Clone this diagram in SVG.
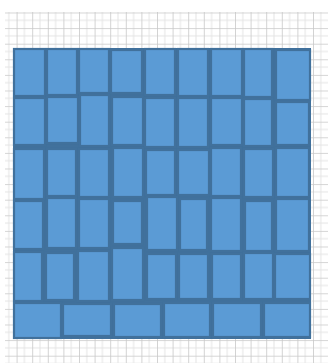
<svg xmlns="http://www.w3.org/2000/svg" width="328" height="363" viewBox="0 0 328 363">
  <defs>
    <pattern id="grid" x="1" y="12.5" width="15.6" height="15.6" patternUnits="userSpaceOnUse">
      <path d="M7.8 0V15.6M0 7.8H15.6" stroke="#e4e4e4" stroke-width="1" fill="none"/>
      <path d="M0 0V15.6M0 0H15.6" stroke="#c8c8c8" stroke-width="1.6" fill="none"/>
    </pattern>
    <style>
      .b { fill: #5b9bd5; stroke: #41719c; stroke-width: 2.2; }
    </style>
  </defs>
  <rect width="328" height="363" fill="#ffffff"/>
  <rect x="5" y="12" width="323" height="351" fill="url(#grid)"/>
  <rect x="13" y="48" width="298" height="291" fill="#41719c"/>
  <g id="row1">
    <rect id="r1c1" class="b" x="14" y="49" width="31" height="47"/>
    <rect id="r1c2" class="b" x="47" y="49" width="30" height="46"/>
    <rect id="r1c3" class="b" x="79" y="49" width="30" height="44"/>
    <rect id="r1c4" class="b" x="111" y="50" width="31" height="43"/>
    <rect id="r1c5" class="b" x="145" y="49" width="30" height="46"/>
    <rect id="r1c6" class="b" x="178" y="49" width="30" height="47"/>
    <rect id="r1c7" class="b" x="211" y="49" width="31" height="47"/>
    <rect id="r1c8" class="b" x="244" y="49" width="28" height="48"/>
    <rect id="r1c9" class="b" x="276" y="50" width="34" height="50"/>
  </g>
  <g id="row2">
    <rect id="r2c1" class="b" x="14" y="98" width="31" height="47"/>
    <rect id="r2c2" class="b" x="47" y="97" width="31" height="46"/>
    <rect id="r2c3" class="b" x="80" y="95" width="29" height="51"/>
    <rect id="r2c4" class="b" x="112" y="97" width="31" height="48"/>
    <rect id="r2c5" class="b" x="145" y="98" width="30" height="49"/>
    <rect id="r2c6" class="b" x="178" y="98" width="30" height="49"/>
    <rect id="r2c7" class="b" x="211" y="98" width="31" height="47"/>
    <rect id="r2c8" class="b" x="244" y="99" width="28" height="47"/>
    <rect id="r2c9" class="b" x="276" y="102" width="33" height="43"/>
  </g>
  <g id="row3">
    <rect id="r3c1" class="b" x="14" y="149" width="30" height="50"/>
    <rect id="r3c2" class="b" x="47" y="149" width="29" height="47"/>
    <rect id="r3c3" class="b" x="79" y="149" width="30" height="48"/>
    <rect id="r3c4" class="b" x="113" y="148" width="30" height="49"/>
    <rect id="r3c5" class="b" x="146" y="150" width="29" height="45"/>
    <rect id="r3c6" class="b" x="178" y="150" width="31" height="45"/>
    <rect id="r3c7" class="b" x="211" y="148" width="30" height="48"/>
    <rect id="r3c8" class="b" x="244" y="149" width="29" height="48"/>
    <rect id="r3c9" class="b" x="276" y="148" width="33" height="49"/>
  </g>
  <g id="row4">
    <rect id="r4c1" class="b" x="14" y="201" width="29" height="48"/>
    <rect id="r4c2" class="b" x="47" y="198" width="29" height="50"/>
    <rect id="r4c3" class="b" x="79" y="199" width="30" height="49"/>
    <rect id="r4c4" class="b" x="113" y="201" width="29" height="43"/>
    <rect id="r4c5" class="b" x="147" y="197" width="30" height="53"/>
    <rect id="r4c6" class="b" x="180" y="199" width="27" height="51"/>
    <rect id="r4c7" class="b" x="211" y="198" width="30" height="53"/>
    <rect id="r4c8" class="b" x="245" y="201" width="27" height="50"/>
    <rect id="r4c9" class="b" x="276" y="199" width="33" height="52"/>
  </g>
  <g id="row5">
    <rect id="r5c1" class="b" x="14" y="252" width="28" height="49"/>
    <rect id="r5c2" class="b" x="46" y="253" width="28" height="47"/>
    <rect id="r5c3" class="b" x="78" y="251" width="31" height="50"/>
    <rect id="r5c4" class="b" x="112" y="248" width="31" height="52"/>
    <rect id="r5c5" class="b" x="147" y="254" width="29" height="45"/>
    <rect id="r5c6" class="b" x="179" y="254" width="29" height="45"/>
    <rect id="r5c7" class="b" x="212" y="254" width="29" height="45"/>
    <rect id="r5c8" class="b" x="244" y="253" width="29" height="46"/>
    <rect id="r5c9" class="b" x="275" y="254" width="35" height="45"/>
  </g>
  <g id="row6">
    <rect id="r6c1" class="b" x="14" y="303" width="47" height="35"/>
    <rect id="r6c2" class="b" x="63" y="304" width="48" height="32"/>
    <rect id="r6c3" class="b" x="114" y="304" width="47" height="33"/>
    <rect id="r6c4" class="b" x="164" y="303" width="46" height="34"/>
    <rect id="r6c5" class="b" x="213" y="303" width="48" height="34"/>
    <rect id="r6c6" class="b" x="264" y="303" width="46" height="34"/>
  </g>
</svg>
